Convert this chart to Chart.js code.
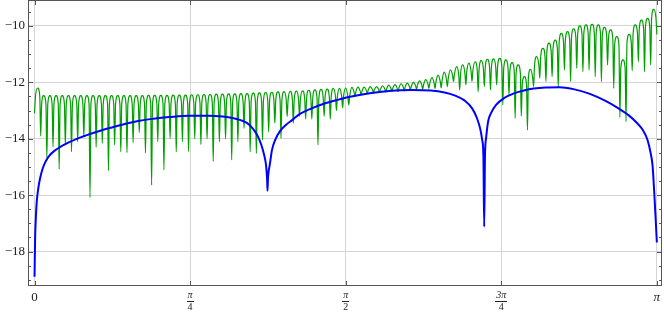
<!DOCTYPE html>
<html>
<head>
<meta charset="utf-8">
<script src="https://cdn.jsdelivr.net/npm/chart.js@4.4.0/dist/chart.umd.min.js"></script>
<style>
  html, body { margin: 0; padding: 0; background: #fff; }
</style>
</head>
<body>
<canvas id="chart" width="664" height="312"></canvas>
<script>
// --- x axis ticks (radians) ---
const xTickValues = [0, Math.PI / 4, Math.PI / 2, 3 * Math.PI / 4, Math.PI];
const xTickNumer = ["0", "π", "π", "3π", "π"];
const xTickDenom = ["", "4", "2", "4", ""];
const yTickValues = [-18, -16, -14, -12, -10];

// --- blue curve ---
const blueX = [0, 0.003, 0.006, 0.011, 0.018, 0.028, 0.04, 0.055, 0.075, 0.1, 0.13, 0.17, 0.21, 0.26,
  0.32, 0.39, 0.46, 0.53, 0.6, 0.68, 0.78, 0.88, 0.95, 1.0, 1.04, 1.07, 1.1, 1.125, 1.145, 1.16, 1.168,
  1.172, 1.1745, 1.176, 1.1785, 1.182, 1.186, 1.19, 1.198, 1.215, 1.24, 1.27, 1.3, 1.34, 1.39, 1.46,
  1.53, 1.6, 1.7, 1.8, 1.9, 2.0, 2.07, 2.12, 2.17, 2.21, 2.235, 2.25, 2.26, 2.266, 2.27, 2.274, 2.28,
  2.29, 2.305, 2.33, 2.37, 2.42, 2.47, 2.52, 2.58, 2.65, 2.72, 2.8, 2.88, 2.95, 3.0, 3.04, 3.07, 3.095,
  3.11, 3.12, 3.128, 3.135, 3.1416];
const blueY = [-18.89, -17.5, -16.9, -16.25, -15.8, -15.4, -15.08, -14.82, -14.6, -14.43, -14.29, -14.14, -14.01, -13.88,
  -13.74, -13.6, -13.47, -13.36, -13.29, -13.23, -13.18, -13.18, -13.21, -13.26, -13.34, -13.43, -13.62, -13.88, -14.22, -14.6, -14.9,
  -15.2, -15.5, -15.84, -15.4, -15.15, -14.99, -14.8, -14.42, -14.04, -13.72, -13.5, -13.34, -13.12, -12.95, -12.76,
  -12.62, -12.5, -12.38, -12.3, -12.27, -12.29, -12.36, -12.46, -12.64, -12.93, -13.3, -13.65, -14.05, -14.6, -17.12, -14.6, -13.95,
  -13.38, -13.08, -12.8, -12.56, -12.39, -12.29, -12.22, -12.18, -12.17, -12.24, -12.4, -12.65, -12.93, -13.17, -13.43, -13.68, -14.05,
  -14.5, -14.95, -15.85, -16.75, -17.68];

// --- green curve: one top per arch, one spike value between arches ---
const greenArches = 101;
const greenStart = -13.1;
const greenEnd = -10.3;
const greenPeaks = [-12.2,
  -12.47, -12.47, -12.47, -12.47, -12.47, -12.47, -12.47, -12.47, -12.47, -12.47,
  -12.47, -12.47, -12.47, -12.47, -12.47, -12.47, -12.47, -12.46, -12.46, -12.46,
  -12.46, -12.45, -12.45, -12.45, -12.44, -12.44, -12.43, -12.43, -12.42, -12.42,
  -12.41, -12.41, -12.4, -12.4, -12.38, -12.37, -12.36, -12.35, -12.34, -12.33,
  -12.32, -12.31, -12.3, -12.28, -12.27, -12.25, -12.24, -12.22, -12.21, -12.2,
  -12.18, -12.17, -12.17, -12.15, -12.15, -12.12, -12.1, -12.08, -12.05, -12.03,
  -12.0, -11.95, -11.9, -11.83, -11.74, -11.64, -11.56,
  -11.44, -11.38, -11.32, -11.27, -11.23, -11.18, -11.17, -11.15, -11.2, -11.3,
  -11.38, -11.8, -11.54, -11.09, -10.79, -10.61, -10.5,
  -10.26, -10.2, -10.1, -10.0, -9.96, -9.94, -9.96, -10.05, -10.14, -10.38,
  -11.2, -10.3, -9.96, -9.79, -9.73, -9.41];
const greenDips = [
  -13.9, -14.66, -14.28, -15.08, -14.22, -14.46, -14.1, -13.92, -16.08, -14.3,
  -14.16, -15.13, -14.22, -14.46, -14.49, -14.14, -13.78, -14.5, -15.64, -14.1,
  -15.1, -14.0, -14.46, -14.1, -14.45, -14.0, -14.2, -14.0, -14.8, -14.1,
  -14.0, -14.75, -14.1, -13.63, -14.46, -14.52, -14.04, -13.75, -13.45, -13.98,
  -13.21, -13.45, -13.2, -13.3, -13.3, -14.22, -13.2, -13.3, -13.0, -12.9,
  -12.8, -12.5, -12.45, -12.4, -12.38, -12.36, -12.35, -12.33, -12.33, -12.3,
  -12.28, -12.25, -12.25, -12.22, -12.22, -12.2, -12.15, -11.97, -12.27, -12.09,
  -11.97, -12.33, -12.15, -12.27, -12.09, -12.8, -12.45, -13.27, -13.2, -13.69,
  -12.15, -11.85, -11.97, -11.8, -12.17, -11.56, -11.97, -11.5, -11.62, -11.56,
  -11.8, -11.97, -11.38, -12.21, -13.24, -13.39, -11.59, -11.27, -11.62, -11.38];

// arch shape: the round top sits this far above the point where the spike starts
const archShoulderDrop = 0.3;
const archShoulderPos = 0.15; // fraction of arch width from the spike

// build point lists
const bluePoints = blueX.map((x, i) => ({ x: x, y: blueY[i] }));
const greenLows = [greenStart, ...greenDips, greenEnd];
const archWidth = Math.PI / greenArches;
const greenPoints = [{ x: 0, y: greenStart }];
greenPeaks.forEach((p, i) => {
  const x0 = i * archWidth, x1 = (i + 1) * archWidth;
  const sL = Math.max(p - archShoulderDrop, (p + greenLows[i]) / 2);
  const sR = Math.max(p - archShoulderDrop, (p + greenLows[i + 1]) / 2);
  greenPoints.push({ x: x0 + archShoulderPos * archWidth, y: sL });
  greenPoints.push({ x: x0 + archWidth / 2, y: p });
  greenPoints.push({ x: x1 - archShoulderPos * archWidth, y: sR });
  greenPoints.push({ x: x1, y: greenLows[i + 1] });
});

const FRAME = "#555";
const SERIF = "'Liberation Serif', 'Times New Roman', serif";

// frame, inward ticks, fraction labels
const framePlugin = {
  id: "frame",
  afterDraw(chart) {
    const { ctx, chartArea: a, scales } = chart;
    const xs = scales.x, ys = scales.y;
    ctx.save();
    ctx.strokeStyle = FRAME;
    ctx.lineWidth = 1;
    ctx.strokeRect(a.left + 0.5, a.top + 0.5, a.right - a.left - 1, a.bottom - a.top - 1);

    // y ticks, major every 2, minor every 0.5
    ctx.beginPath();
    for (let v = -19; v <= -9.5; v += 0.5) {
      const y = Math.round(ys.getPixelForValue(v)) + 0.5;
      const len = (v % 2 === 0) ? 5 : 3;
      ctx.moveTo(a.left, y); ctx.lineTo(a.left + len, y);
      ctx.moveTo(a.right, y); ctx.lineTo(a.right - len, y);
    }
    xTickValues.forEach(v => {
      const x = Math.round(xs.getPixelForValue(v)) + 0.5;
      ctx.moveTo(x, a.bottom); ctx.lineTo(x, a.bottom - 5);
      ctx.moveTo(x, a.top); ctx.lineTo(x, a.top + 5);
    });
    ctx.stroke();

    // x labels
    ctx.fillStyle = "#222";
    ctx.textAlign = "center";
    ctx.textBaseline = "middle";
    xTickValues.forEach((v, i) => {
      const x = xs.getPixelForValue(v);
      if (xTickDenom[i] === "") {
        ctx.font = (xTickNumer[i] === "π" ? "italic " : "") + "13px " + SERIF;
        ctx.fillText(xTickNumer[i], x, a.bottom + 12);
      } else {
        ctx.font = "italic 10px " + SERIF;
        ctx.fillText(xTickNumer[i], x, a.bottom + 9);
        const w = ctx.measureText(xTickNumer[i]).width + 2;
        ctx.fillRect(Math.round(x - w / 2), a.bottom + 15, Math.round(w), 1);
        ctx.font = "10px " + SERIF;
        ctx.fillText(xTickDenom[i], x, a.bottom + 21);
      }
    });
    ctx.restore();
  }
};

new Chart(document.getElementById("chart"), {
  type: "line",
  data: {
    datasets: [
      { label: "blue", data: bluePoints, borderColor: "#0000ff", borderWidth: 2,
        pointRadius: 0, cubicInterpolationMode: "monotone" },
      { label: "green", data: greenPoints, borderColor: "#00a000", borderWidth: 1.2,
        pointRadius: 0, cubicInterpolationMode: "monotone" }
    ]
  },
  options: {
    responsive: false,
    animation: false,
    parsing: false,
    layout: { padding: { top: 0, right: 2, left: 0, bottom: 0 } },
    plugins: { legend: { display: false }, tooltip: { enabled: false } },
    scales: {
      x: {
        type: "linear",
        min: -0.033,
        max: Math.PI + 0.026,
        afterBuildTicks: s => { s.ticks = xTickValues.map(v => ({ value: v })); },
        afterFit: s => { s.height = 26; s.paddingLeft = 0; s.paddingRight = 0; },
        ticks: { display: false },
        grid: { color: "#d4d4d4", drawTicks: false },
        border: { display: false }
      },
      y: {
        type: "linear",
        min: -19.22,
        max: -9.08,
        afterBuildTicks: s => { s.ticks = yTickValues.map(v => ({ value: v })); },
        afterFit: s => { s.width = 28; s.paddingTop = 0; s.paddingBottom = 0; },
        ticks: {
          padding: 3,
          color: "#222",
          font: { family: SERIF, size: 13 },
          callback: v => "\u2212" + Math.abs(v)
        },
        grid: { color: "#d4d4d4", drawTicks: false },
        border: { display: false }
      }
    }
  },
  plugins: [framePlugin]
});
</script>
</body>
</html>
